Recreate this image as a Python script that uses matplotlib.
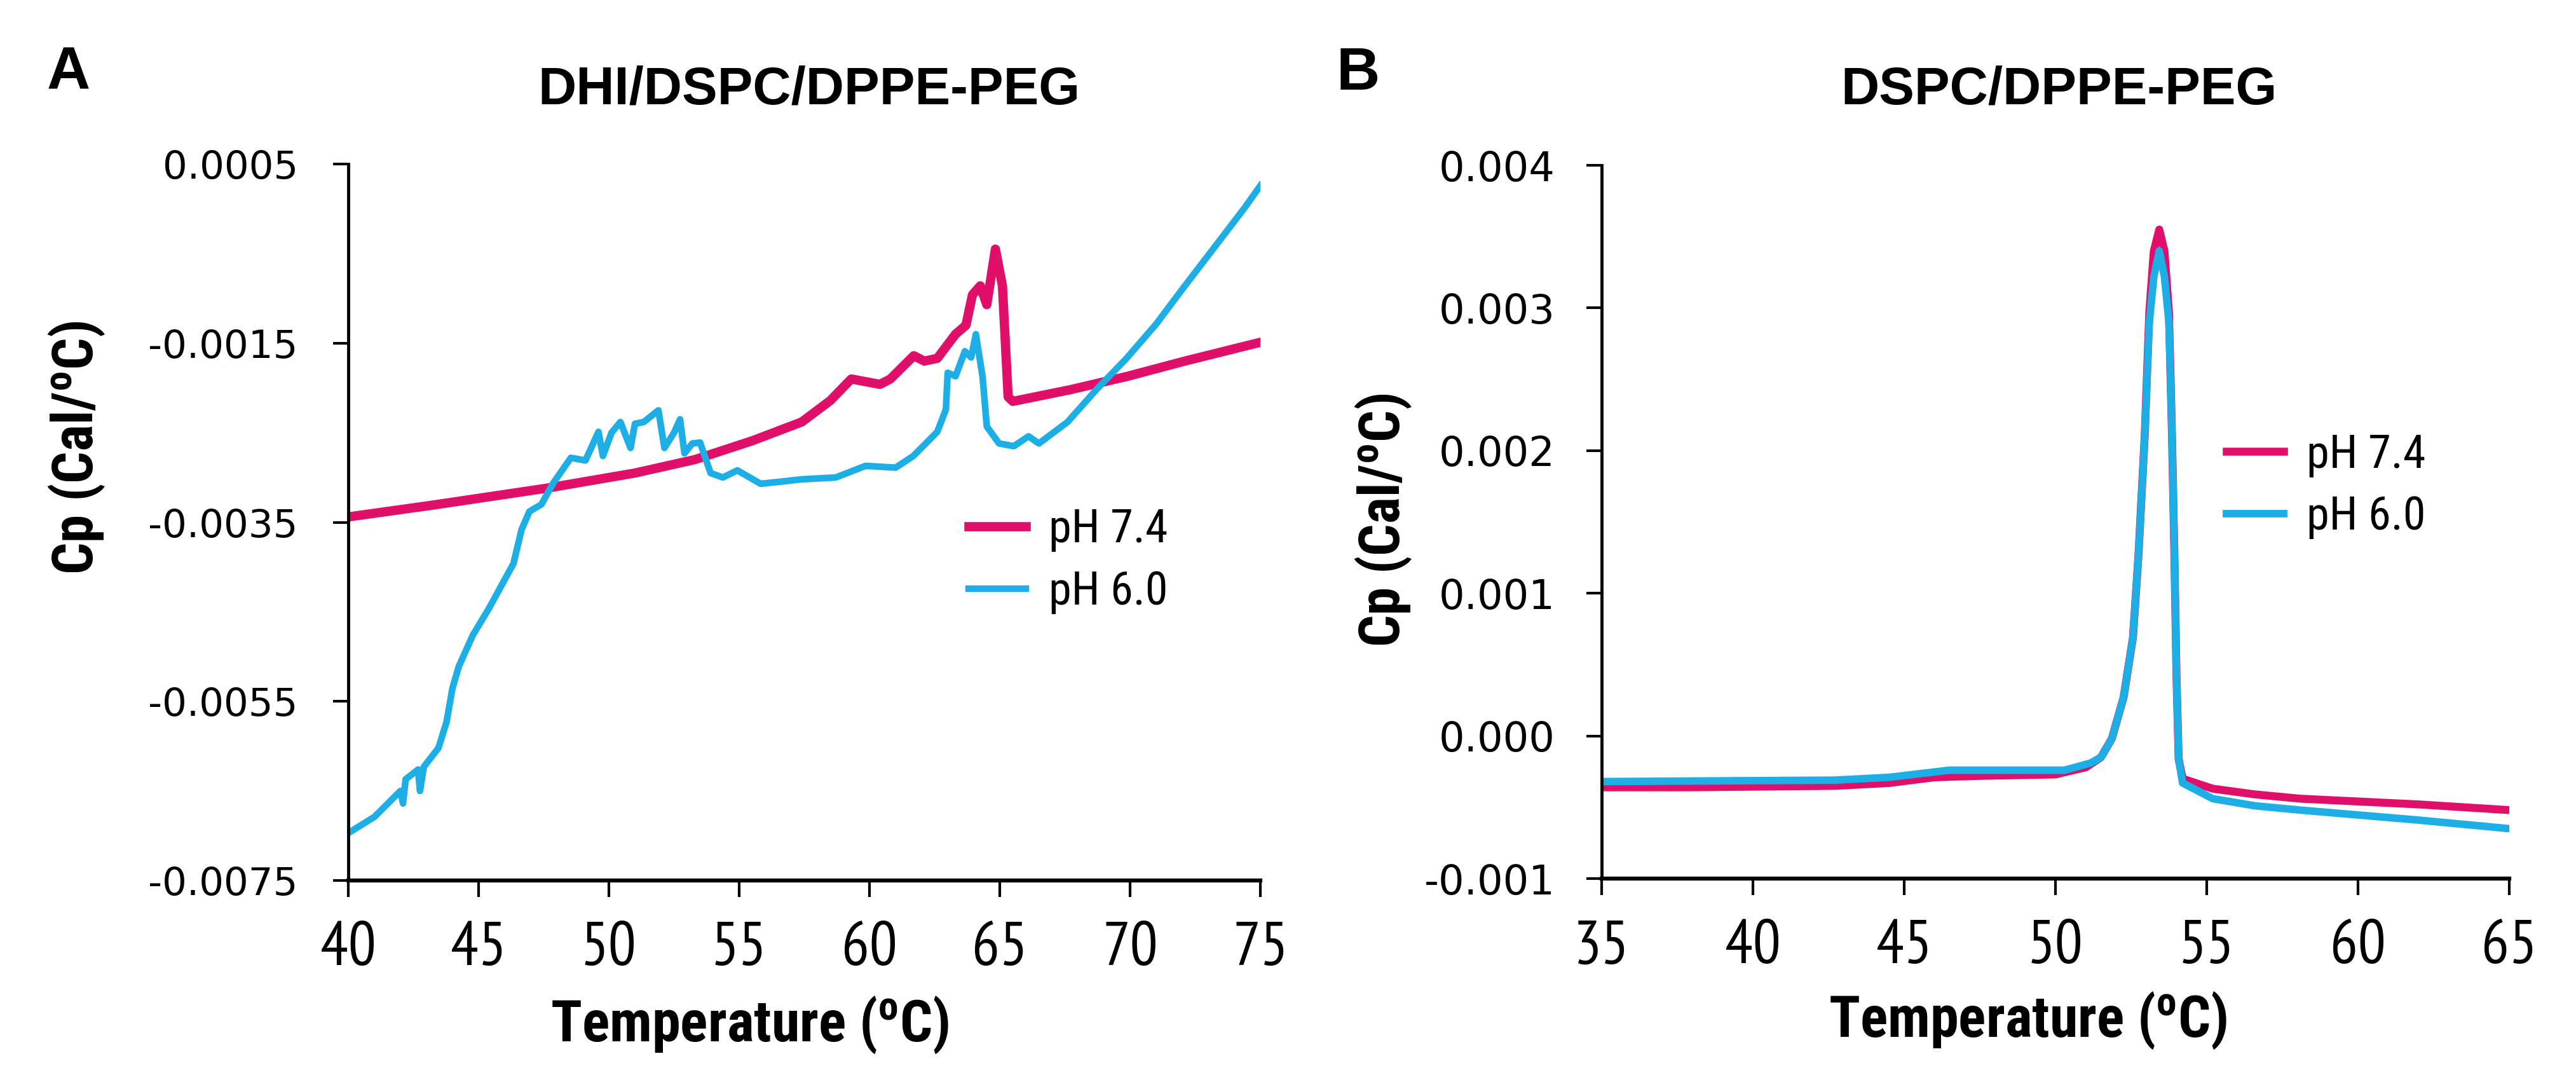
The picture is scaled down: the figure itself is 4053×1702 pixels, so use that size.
import matplotlib
matplotlib.use('Agg')
import matplotlib.pyplot as plt
from matplotlib import font_manager
from matplotlib.ticker import FixedLocator, FixedFormatter

# ---------------- data ----------------
# Panel A: DHI/DSPC/DPPE-PEG
a_t_74 = [40.0, 43.2, 47.6, 51.0, 53.3, 55.5, 57.4, 58.5, 59.3, 60.4, 60.8, 61.7,
          62.1, 62.6, 63.3, 63.7, 63.95, 64.25, 64.5, 64.83, 65.1, 65.32, 65.5,
          67.7, 69.9, 72.1, 75.0]
a_cp_74 = [-0.00344, -0.00331, -0.00312, -0.00295, -0.00280, -0.00259, -0.00238,
           -0.00214, -0.00190, -0.00196, -0.00190, -0.00164, -0.00170, -0.00167,
           -0.00140, -0.00130, -0.00096, -0.00086, -0.00107, -0.00045, -0.00086,
           -0.00210, -0.00215, -0.00202, -0.00187, -0.00170, -0.00149]

a_t_60 = [40.0, 41.0, 42.0, 42.1, 42.2, 42.68, 42.75, 42.9, 43.46, 43.77, 44.0, 44.24,
          44.78, 45.4, 46.34, 46.65, 46.95, 47.41, 47.87, 48.54, 49.1, 49.6, 49.77,
          50.1, 50.44, 50.83, 51.0, 51.34, 51.9, 52.13, 52.5, 52.73, 52.9, 53.2, 53.5,
          53.9, 54.37, 54.93, 55.82, 56.8, 57.4, 58.7, 59.85, 61.0, 61.68, 62.6, 62.93,
          63.0, 63.3, 63.66, 63.9, 64.08, 64.34, 64.5, 64.97, 65.54, 66.1, 66.5, 67.6,
          68.7, 69.86, 70.99, 72.1, 73.26, 74.39, 75.0]
a_cp_60 = [-0.00697, -0.00679, -0.00650, -0.00664, -0.00637, -0.00626, -0.00650,
           -0.00623, -0.00602, -0.00573, -0.00535, -0.00511, -0.00476, -0.00446,
           -0.00396, -0.00358, -0.00338, -0.00330, -0.00306, -0.00278, -0.00281,
           -0.00249, -0.00276, -0.00250, -0.00238, -0.00267, -0.00240, -0.00238,
           -0.00225, -0.00267, -0.00250, -0.00235, -0.00273, -0.00262, -0.00261,
           -0.00295, -0.00300, -0.00292, -0.00307, -0.00304, -0.00302, -0.00300,
           -0.00287, -0.00289, -0.00276, -0.00249, -0.00224, -0.00183, -0.00187,
           -0.00159, -0.00166, -0.00140, -0.00188, -0.00243, -0.00262, -0.00265,
           -0.00254, -0.00262, -0.00238, -0.00202, -0.00167, -0.00129, -0.00086,
           -0.00042, 0.00001, 0.00026]

# Panel B: DSPC/DPPE-PEG
b_t_74 = [35.0, 38.0, 42.7, 44.5, 46.0, 47.5, 50.0, 51.0, 51.5, 51.86, 52.25, 52.56,
          52.74, 52.95, 53.1, 53.25, 53.43, 53.6, 53.75, 53.85, 53.93, 54.0, 54.07,
          54.2, 55.2, 56.6, 58.1, 62.0, 65.0]
b_cp_74 = [-0.00036, -0.00036, -0.00035, -0.00033, -0.00029, -0.00028, -0.00027,
           -0.00022, -0.00015, -0.00002, 0.00027, 0.00069, 0.00126, 0.00211, 0.00297,
           0.00340, 0.00355, 0.00340, 0.00297, 0.00211, 0.00126, 0.00041, -0.00016,
           -0.00030, -0.00037, -0.00041, -0.00044, -0.00048, -0.00052]

b_t_60 = [35.0, 42.7, 44.5, 46.5, 50.3, 51.16, 51.5, 51.86, 52.25, 52.56, 52.74,
          52.95, 53.1, 53.25, 53.43, 53.6, 53.75, 53.85, 53.93, 54.0, 54.07, 54.2,
          55.2, 56.6, 58.1, 62.0, 65.0]
b_cp_60 = [-0.00032, -0.00031, -0.00029, -0.00024, -0.00024, -0.00019, -0.00015,
           -0.00002, 0.00027, 0.00069, 0.00126, 0.00211, 0.00290, 0.00322, 0.00340,
           0.00322, 0.00290, 0.00211, 0.00126, 0.00041, -0.00016, -0.00033, -0.00044,
           -0.00049, -0.00052, -0.00059, -0.00065]

labels = ['pH 7.4', 'pH 6.0']
a_xticks = [40, 45, 50, 55, 60, 65, 70, 75]
a_yticks = [0.0005, -0.0015, -0.0035, -0.0055, -0.0075]
a_yticklabels = ['0.0005', '-0.0015', '-0.0035', '-0.0055', '-0.0075']
b_xticks = [35, 40, 45, 50, 55, 60, 65]
b_yticks = [0.004, 0.003, 0.002, 0.001, 0.000, -0.001]
b_yticklabels = ['0.004', '0.003', '0.002', '0.001', '0.000', '-0.001']
titles = ['DHI/DSPC/DPPE-PEG', 'DSPC/DPPE-PEG']

# ---------------- fonts ----------------
names = {f.name for f in font_manager.fontManager.ttflist}
def pick(*cands):
    for n in cands:
        if n in names:
            return n
    return 'DejaVu Sans'
SANS = pick('Liberation Sans', 'Arimo', 'DejaVu Sans')
NARROW = pick('PT Sans Narrow', 'Archivo Narrow', 'Roboto Condensed',
              'Barlow Semi Condensed', 'Asap Condensed', 'Liberation Sans')
COND = pick('Roboto Condensed', 'Barlow Semi Condensed', 'Archivo Narrow',
            'Liberation Sans')
TICKF = 'DejaVu Sans'

plt.rcParams['mathtext.fontset'] = 'custom'
plt.rcParams['mathtext.rm'] = COND
plt.rcParams['mathtext.bf'] = COND + ':bold'

PINK = '#E0106A'
BLUE = '#1DAEE6'

fig = plt.figure(figsize=(40.53, 17.02), dpi=100)
axA = fig.add_axes([0.1352, 0.1862, 0.3541, 0.6622])
axB = fig.add_axes([0.6218, 0.1880, 0.3523, 0.6592])

axA.plot(a_t_74, a_cp_74, color=PINK, lw=10.5, label=labels[0], solid_joinstyle='round')
axA.plot(a_t_60, a_cp_60, color=BLUE, lw=7.5, label=labels[1], solid_joinstyle='round')
axB.plot(b_t_74, b_cp_74, color=PINK, lw=9, label=labels[0], solid_joinstyle='round')
axB.plot(b_t_60, b_cp_60, color=BLUE, lw=8.5, label=labels[1], solid_joinstyle='round')

axA.set_xlim(40, 75)
axA.set_ylim(-0.0075, 0.0005)
axB.set_xlim(35, 65)
axB.set_ylim(-0.001, 0.004)

for ax, xt, yt, ytl, ysz, ypad in [(axA, a_xticks, a_yticks, a_yticklabels, 44, 40),
                                   (axB, b_xticks, b_yticks, b_yticklabels, 46, 36)]:
    for s in ('top', 'right'):
        ax.spines[s].set_visible(False)
    ax.spines['left'].set_linewidth(3.5)
    ax.spines['bottom'].set_linewidth(4.5)
    ax.xaxis.set_major_locator(FixedLocator(xt))
    ax.xaxis.set_major_formatter(FixedFormatter([str(v) for v in xt]))
    ax.yaxis.set_major_locator(FixedLocator(yt))
    ax.yaxis.set_major_formatter(FixedFormatter(ytl))
    ax.tick_params(axis='x', direction='out', length=19, width=3, pad=28)
    ax.tick_params(axis='y', direction='out', length=17, width=3, pad=ypad)
    for lab in ax.get_xticklabels():
        lab.set_fontfamily(NARROW)
        lab.set_fontsize(70)
    for lab in ax.get_yticklabels():
        lab.set_fontfamily(TICKF)
        lab.set_fontsize(ysz)

legkw = dict(loc='center left', frameon=False, prop={'family': COND, 'size': 52},
             handlelength=1.25, handletextpad=0.5, labelspacing=0.40,
             borderpad=0, borderaxespad=0)
axA.legend(bbox_to_anchor=(0.680, 0.446), **legkw)
axB.legend(bbox_to_anchor=(0.688, 0.550), **legkw)

bold = dict(family=SANS, weight='bold')
fig.text(0.3140, 0.9166, titles[0], ha='center', va='center', size=60, **bold)
fig.text(0.7994, 0.9166, titles[1], ha='center', va='center', size=60, **bold)
fig.text(0.0266, 0.9318, 'A', ha='center', va='center', size=68, **bold)
fig.text(0.5273, 0.9318, 'B', ha='center', va='center', size=68, **bold)

ylab = r'Cp (Cal/$\mathbf{^o}$C)'
xlab = r'Temperature ($\mathbf{^o}$C)'
fig.text(0.0299, 0.5864, ylab, rotation=90, ha='center', va='center', size=64,
         family=COND, weight='bold')
fig.text(0.5371, 0.5194, ylab, rotation=90, ha='center', va='center', size=64,
         family=COND, weight='bold')
fig.text(0.2911, 0.0529, xlab, ha='center', va='center', size=65,
         family=COND, weight='bold')
fig.text(0.7873, 0.0570, xlab, ha='center', va='center', size=65,
         family=COND, weight='bold')

fig.savefig('out.png', dpi=100)
